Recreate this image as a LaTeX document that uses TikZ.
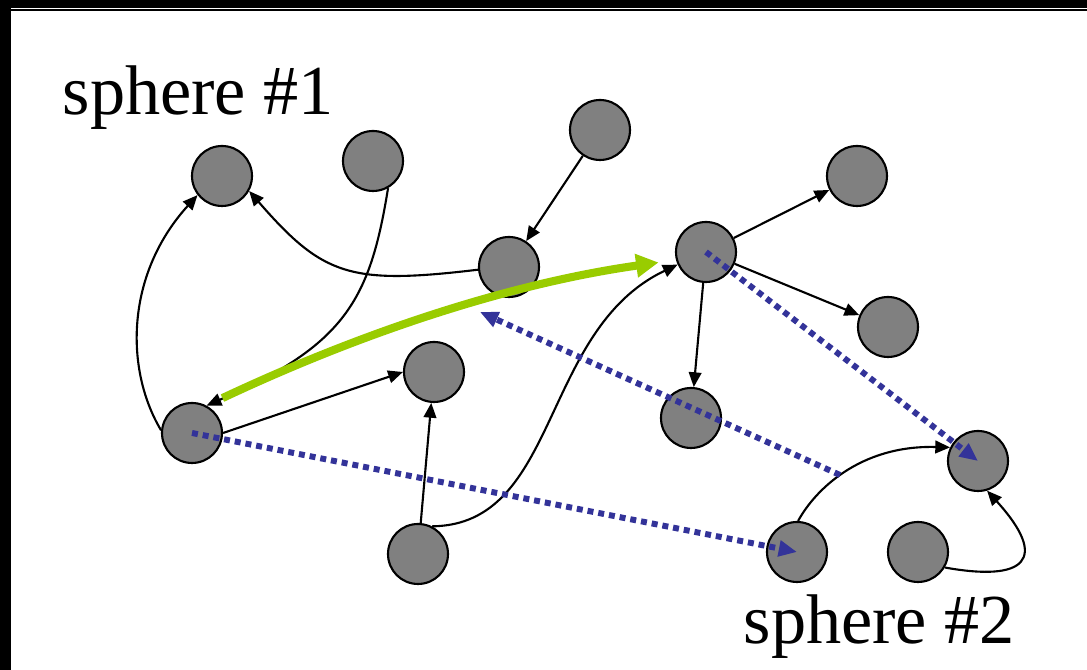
\documentclass[tikz,border=0pt]{standalone}
\usepackage{fontspec}
\setmainfont{Liberation Serif}
\usepackage{xcolor}
\usetikzlibrary{arrows.meta}
\definecolor{probeblue}{RGB}{51,51,153}
\definecolor{pathgreen}{RGB}{153,204,0}
\tikzset{
  host/.style={circle, fill=black!50, draw=black, line width=0.6pt, minimum size=0.6cm, inner sep=0pt},
  link/.style={line width=0.6pt, -{Triangle[length=4.2pt,width=3.6pt]}},
  probe/.style={probeblue, line width=1.7pt, dash pattern=on 1.7pt off 1.4pt, -{Triangle[length=5.2pt,width=4.4pt]}},
  route/.style={pathgreen, line width=2.3pt, -{Triangle[length=6.4pt,width=6.4pt]}},
  sphlabel/.style={inner sep=0pt, anchor=base west, font=\fontsize{20}{24}\selectfont}
}

\begin{document}
\begin{tikzpicture}
\useasboundingbox (0,0) rectangle (10.87,6.70);
% frame
\fill[black] (0,6.62) rectangle (10.87,6.70);
\fill[black] (0,0) rectangle (0.11,6.70);
\draw[line width=0.57pt] (0.11,6.60) -- (10.87,6.60);

% labels
\node[sphlabel] (lab1) at (0.62,5.55) {sphere \#1};
\node[sphlabel] (lab2) at (7.43,0.26) {sphere \#2};

% hosts
\node[host] (A) at (2.22,4.94) {};
\node[host] (B) at (3.73,5.09) {};
\node[host] (C) at (6.00,5.40) {};
\node[host] (D) at (5.09,4.03) {};
\node[host] (E) at (8.57,4.94) {};
\node[host] (F) at (7.06,4.18) {};
\node[host] (G) at (8.88,3.43) {};
\node[host] (H) at (4.34,2.98) {};
\node[host] (I) at (1.92,2.37) {};
\node[host] (J) at (6.91,2.52) {};
\node[host] (K) at (9.78,2.09) {};
\node[host] (L) at (4.18,1.16) {};
\node[host] (M) at (7.97,1.18) {};
\node[host] (N) at (9.18,1.18) {};

% links
\draw[link] (C) -- (D);
\draw[link] (D.185) .. controls (3.50,3.85) and (3.23,3.94) .. (A.-29);
\draw[link] (B.-61) .. controls (3.70,3.70) and (3.45,3.25) .. (I.62);
\draw[link] (I.175) .. controls (1.25,3.00) and (1.25,3.95) .. (A.218);
\draw[link] (I.east) -- (H.west);
\draw[link] (L) -- (H);
\draw[link] (L.63) .. controls (5.60,1.45) and (5.40,3.40) .. (F.204);
\draw[link] (F) -- (E);
\draw[link] (F) -- (G);
\draw[link] (F) -- (J);
\draw[link] (M.88) .. controls (8.15,1.80) and (8.60,2.25) .. (K.154);
\draw[link] (N.-30) .. controls (10.25,0.88) and (10.50,1.10) .. (K.-73);

% green route
\draw[route, shorten <=5pt, shorten >=5pt] (I.62) .. controls (3.50,3.32) and (5.00,3.85) .. (F.195);

% blue probes
\coordinate (mkpt) at (8.40,1.95);
\coordinate (backpt) at (4.80,3.58);
\draw[probe] (I.center) -- (M.center);
\draw[probe] (F.center) -- (K.center);
\draw[probe] (mkpt) -- (backpt);
\end{tikzpicture}
\end{document}
